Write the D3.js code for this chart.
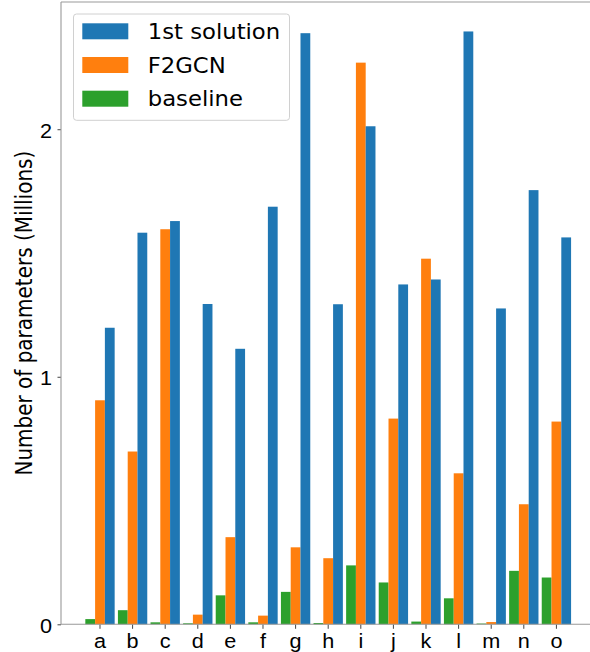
<!DOCTYPE html>
<html>
<head>
<meta charset="utf-8">
<script src="https://cdn.jsdelivr.net/npm/d3@7"></script>
<style>
  body { margin: 0; background: #fff; overflow: hidden; }
  svg { display: block; font-family: "DejaVu Sans", sans-serif; }
</style>
</head>
<body>
<div id="chart"></div>
<script>
// data (millions of parameters)
const categories = ["a","b","c","d","e","f","g","h","i","j","k","l","m","n","o"];
const series = ["baseline", "F2GCN", "1st solution"];
const firstSolution = [1.198, 1.582, 1.629, 1.294, 1.113, 1.687, 2.388, 1.293, 2.012, 1.373, 1.393, 2.395, 1.276, 1.754, 1.563];
const f2gcn = [0.905, 0.698, 1.596, 0.039, 0.352, 0.035, 0.311, 0.267, 2.269, 0.831, 1.477, 0.610, 0.009, 0.485, 0.819];
const baseline = [0.021, 0.057, 0.008, 0.004, 0.117, 0.008, 0.131, 0.005, 0.238, 0.169, 0.011, 0.105, 0.003, 0.216, 0.189];
const yTicks = [0, 1, 2];

const colors = {
  "1st solution": "#1f77b4",
  "F2GCN": "#ff7f0e",
  "baseline": "#2ca02c"
};
const values = {
  "1st solution": firstSolution,
  "F2GCN": f2gcn,
  "baseline": baseline
};
const legendOrder = ["1st solution", "F2GCN", "baseline"];

const width = 590, height = 652;
const mLeft = 61, mRight = 595.4, mTop = 2, mBottom = 624.3;
const stretch = 1.11; // the picture is a bit wider than tall, text too

const svg = d3.select("#chart")
  .append("svg")
  .attr("width", width)
  .attr("height", height);

const x = d3.scaleBand()
  .domain(categories)
  .range([mLeft, mRight])
  .paddingInner(0.1)
  .paddingOuter(0.746);

const xSub = d3.scaleBand()
  .domain(series)
  .range([0, x.bandwidth()]);

const y = d3.scaleLinear()
  .domain([0, 2.514])
  .range([mBottom, mTop]);

// bars
const groups = svg.selectAll(".series")
  .data(series)
  .enter().append("g")
  .attr("class", "series")
  .attr("fill", d => colors[d]);

groups.selectAll("rect")
  .data(s => categories.map((c, i) => ({ cat: c, s: s, v: values[s][i] })))
  .enter().append("rect")
  .attr("x", d => x(d.cat) + xSub(d.s))
  .attr("width", xSub.bandwidth())
  .attr("y", d => y(d.v))
  .attr("height", d => y(0) - y(d.v));

// axes
const xAxis = svg.append("g")
  .attr("transform", `translate(0,${mBottom})`)
  .call(d3.axisBottom(x).tickSize(4.5).tickSizeOuter(0).tickPadding(5));
xAxis.select(".domain").remove();
xAxis.selectAll("text")
  .style("font-size", "19.5px")
  .attr("fill", "#000")
  .attr("transform", `scale(${stretch},1)`);
xAxis.selectAll("line").attr("stroke", "#444");

const yAxis = svg.append("g")
  .attr("transform", `translate(${mLeft},0)`)
  .call(d3.axisLeft(y).tickValues(yTicks).tickFormat(d3.format("d")).tickSize(3.5).tickPadding(4.5));
yAxis.select(".domain").remove();
yAxis.selectAll("text")
  .style("font-size", "19.5px")
  .attr("fill", "#000")
  .attr("dy", "0.4em")
  .attr("transform", `scale(${stretch},1)`);
yAxis.selectAll("line").attr("stroke", "#444");

// spines (the right one falls outside the picture)
svg.append("g")
  .attr("fill", "none")
  .attr("stroke", "#999")
  .attr("stroke-width", 1.1)
  .selectAll("line")
  .data([[mLeft, mTop, mLeft, mBottom], [mLeft, mBottom, mRight, mBottom], [mLeft, mTop, mRight, mTop]])
  .enter().append("line")
  .attr("x1", d => d[0]).attr("y1", d => d[1])
  .attr("x2", d => d[2]).attr("y2", d => d[3]);

// y label
svg.append("text")
  .attr("transform", `translate(24,${(mTop + mBottom) / 2}) scale(${stretch},1) rotate(-90)`)
  .attr("text-anchor", "middle")
  .attr("dominant-baseline", "central")
  .style("font-size", "20px")
  .text("Number of parameters (Millions)");

// legend
const legend = svg.append("g");
legend.append("rect")
  .attr("x", 73.5).attr("y", 14)
  .attr("width", 216).attr("height", 106.3)
  .attr("rx", 3)
  .attr("fill", "#fff").attr("fill-opacity", 0.8)
  .attr("stroke", "#d0d0d0").attr("stroke-width", 1);

const legendG = legend.selectAll(".legend")
  .data(legendOrder)
  .enter().append("g")
  .attr("class", "legend")
  .attr("transform", (d, i) => `translate(82.3,${31.3 + i * 33.7})`);

legendG.append("rect")
  .attr("y", -8)
  .attr("width", 46)
  .attr("height", 16)
  .attr("fill", d => colors[d]);

legendG.append("text")
  .attr("transform", `translate(65.4,7.5) scale(${stretch},1)`)
  .style("font-size", "20.5px")
  .text(d => d);
</script>
</body>
</html>
